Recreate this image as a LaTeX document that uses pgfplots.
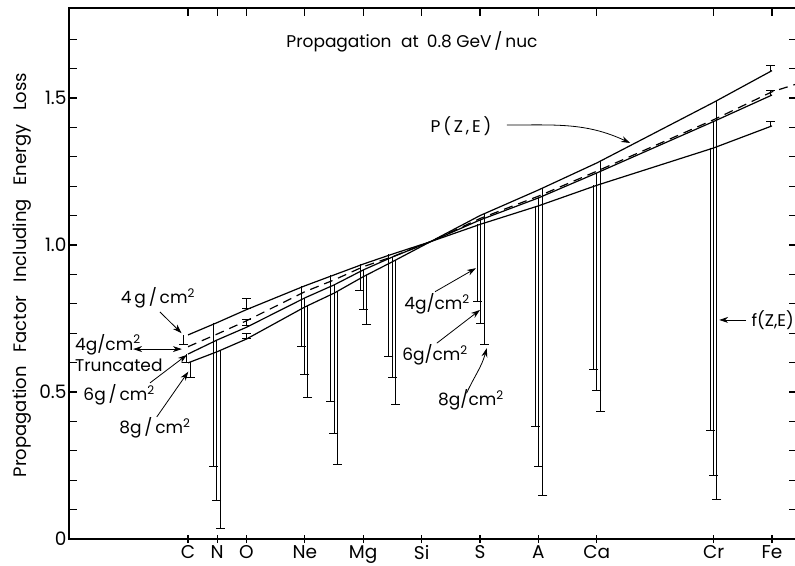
\documentclass[border=0pt]{standalone}
\usepackage{fontspec}
\setmainfont{Poppins}
\usepackage{pgfplots}
\usepackage{pgfplotstable}
\pgfplotsset{compat=1.18}
\usetikzlibrary{arrows.meta}
\newcommand\fs{\fontsize{17}{21}\selectfont}
\newcommand\fst{\fontsize{18.5}{21}\selectfont}
\newcommand\fsl{\fontsize{18}{21}\selectfont}

% bars: x = position, y = curve value, e = drop to f(Z,E)
\pgfplotstableread{
x y e
5.85 0.694 0.034
6.86 0.736 0.488
9.89 0.861 0.205
10.89 0.898 0.429
11.89 0.935 0.090
12.88 0.969 0.347
15.90 1.070 0.263
17.90 1.133 0.751
19.90 1.203 0.628
23.90 1.330 0.962
}\barsfour
\pgfplotstableread{
x y e
5.95 0.629 0.029
6.98 0.677 0.547
10.00 0.820 0.259
11.00 0.864 0.504
12.00 0.915 0.133
13.00 0.959 0.409
16.00 1.085 0.352
18.00 1.160 0.914
20.00 1.245 0.740
24.00 1.420 1.205
}\barssix
\pgfplotstableread{
x y e
6.07 0.602 0.052
7.10 0.641 0.604
10.10 0.794 0.314
11.11 0.842 0.590
12.12 0.898 0.168
13.10 0.948 0.492
16.15 1.107 0.447
18.15 1.194 1.045
20.13 1.287 0.852
24.11 1.490 1.354
}\barseight

\begin{document}
\begin{tikzpicture}[font=\fs, arr/.style={line width=0.8pt, -{Stealth[length=9pt,width=6pt]}}]
\begin{axis}[
  scale only axis, width=728pt, height=531pt,
  xmin=1.925, xmax=26.856, ymin=0, ymax=1.806,
  axis line style={line width=1.3pt},
  xtick={6,7,8,10,12,14,16,18,20,24,26},
  xticklabels={C,N,O,Ne,Mg,Si,S,A,Ca,Cr,Fe},
  xtick pos=left,
  xtick align=center, ytick align=inside,
  ytick={0,0.5,1,1.5}, yticklabels={0,0.5,1.0,1.5},
  minor ytick={0.1,0.2,0.3,0.4,0.6,0.7,0.8,0.9,1.1,1.2,1.3,1.4,1.6,1.7},
  major tick length=8pt, minor tick length=8pt,
  tick style={line width=1.1pt, black},
  /pgf/number format/assume math mode=true,
  ticklabel style={font=\fst},
  xticklabel style={yshift=1pt},
  yticklabel style={xshift=1pt},
  ylabel={Propagation\hspace{0.75em}Factor\hspace{0.75em}Including\hspace{0.75em}Energy\hspace{0.75em}Loss},
  every axis y label/.style={at={(axis description cs:-0.0646,0.497)}, rotate=90, anchor=center, font=\fsl},
  ebar/.style={draw=none, mark=none,
    error bars/.cd, y explicit, y dir=#1,
    error bar style={draw=black, solid, line width=0.9pt},
    error mark options={draw=black, solid, line width=0.9pt, mark size=4.5pt, rotate=90}},
]
\path (rel axis cs:0,0) coordinate (A0);

% P(Z,E) curves
\addplot[black, line width=1.2pt, sharp plot, mark=none] coordinates {
(6,0.694) (7,0.736) (8,0.780) (10,0.861) (11,0.898) (12,0.935) (13,0.969) (14.3,1.011)
(16,1.070) (18,1.133) (20,1.203) (24,1.330) (26,1.405)};
\addplot[black, line width=1.2pt, sharp plot, mark=none, dash pattern=on 9pt off 6pt] coordinates {
(6,0.654) (7,0.697) (8,0.742) (10,0.841) (11,0.881) (12,0.926) (13,0.960) (14.3,1.011)
(16,1.090) (18,1.166) (20,1.251) (24,1.426) (26,1.521) (26.86,1.548)};
\addplot[black, line width=1.2pt, sharp plot, mark=none] coordinates {
(6,0.629) (7,0.677) (8,0.720) (10,0.820) (11,0.864) (12,0.915) (13,0.959) (14.3,1.011)
(16,1.085) (18,1.160) (20,1.245) (24,1.420) (26,1.510)};
\addplot[black, line width=1.2pt, sharp plot, mark=none] coordinates {
(6,0.599) (7,0.637) (8,0.680) (10,0.789) (11,0.836) (12,0.892) (13,0.943) (14.3,1.011)
(16,1.100) (18,1.187) (20,1.279) (24,1.485) (26,1.593)};

% f(Z,E) drops
\addplot[ebar=minus] table[x=x,y=y,y error=e] {\barsfour};
\addplot[ebar=minus] table[x=x,y=y,y error=e] {\barssix};
\addplot[ebar=minus] table[x=x,y=y,y error=e] {\barseight};
% O bars
\addplot[ebar=both]
  coordinates {(8,0.802) +- (0,0.017) (8,0.7375) +- (0,0.0095) (8,0.6915) +- (0,0.0085)};
% Fe bars
\addplot[ebar=plus]
  coordinates {(25.95,1.593) +- (0,0.019) (25.95,1.510) +- (0,0.015) (25.95,1.405) +- (0,0.015)};

% annotations
\node at (axis cs:13.67,1.69) {Propagation\hspace{0.3em} at\hspace{0.2em} 0.8 GeV\,/\,nuc};
\node at (axis cs:15.35,1.405) {P\,(\,Z\,,\,E\,)};
\draw[arr] (axis cs:16.92,1.408) to[out=0,in=155] (axis cs:21.14,1.347);
\node[anchor=west] at (axis cs:25.18,0.745) {f(Z,E)};
\draw[arr] (axis cs:25.11,0.745) -- (axis cs:24.19,0.745);

\node at (axis cs:4.97,0.820) {4\,g\,/\,cm\textsuperscript{2}};
\draw[arr] (axis cs:5.04,0.772) -- (axis cs:5.78,0.700);
\node[anchor=west, align=left, inner sep=0pt] at (axis cs:2.13,0.634) {4g/cm\textsuperscript{2}\\Truncated};
\draw[line width=0.8pt, {Stealth[length=9pt,width=6pt]}-{Stealth[length=9pt,width=6pt]}] (axis cs:4.12,0.646) -- (axis cs:5.79,0.646);
\node at (axis cs:3.64,0.49) {6g\,/\,cm\textsuperscript{2}};
\draw[arr] (axis cs:4.70,0.531) -- (axis cs:5.96,0.626);
\node at (axis cs:4.87,0.378) {8g\,/\,cm\textsuperscript{2}};
\draw[arr] (axis cs:4.93,0.415) -- (axis cs:6.01,0.569);

\node at (axis cs:14.53,0.80) {4g/cm\textsuperscript{2}};
\draw[arr] (axis cs:14.46,0.841) -- (axis cs:15.86,0.921);
\node at (axis cs:14.46,0.626) {6g/cm\textsuperscript{2}};
\draw[arr] (axis cs:14.52,0.666) -- (axis cs:16.0,0.779);
\node at (axis cs:15.69,0.473) {8g/cm\textsuperscript{2}};
\draw[arr] (axis cs:15.54,0.496) to[out=65,in=-105] (axis cs:16.23,0.649);
\end{axis}
% top ticks (inward)
\begin{axis}[
  scale only axis, width=728pt, height=531pt,
  xmin=1.925, xmax=26.856, ymin=0, ymax=1.806,
  axis line style={draw=none},
  xtick={6,7,8,10,12,14,16,18,20,24,26}, xticklabels={},
  xtick pos=right, xtick align=inside, ytick=\empty,
  major tick length=8pt, tick style={line width=1.1pt, black},
]
\end{axis}
\pgfresetboundingbox
\path[use as bounding box] ([shift={(-69pt,-26pt)}]A0) rectangle ([shift={(726pt,539pt)}]A0);
\end{tikzpicture}
\end{document}
